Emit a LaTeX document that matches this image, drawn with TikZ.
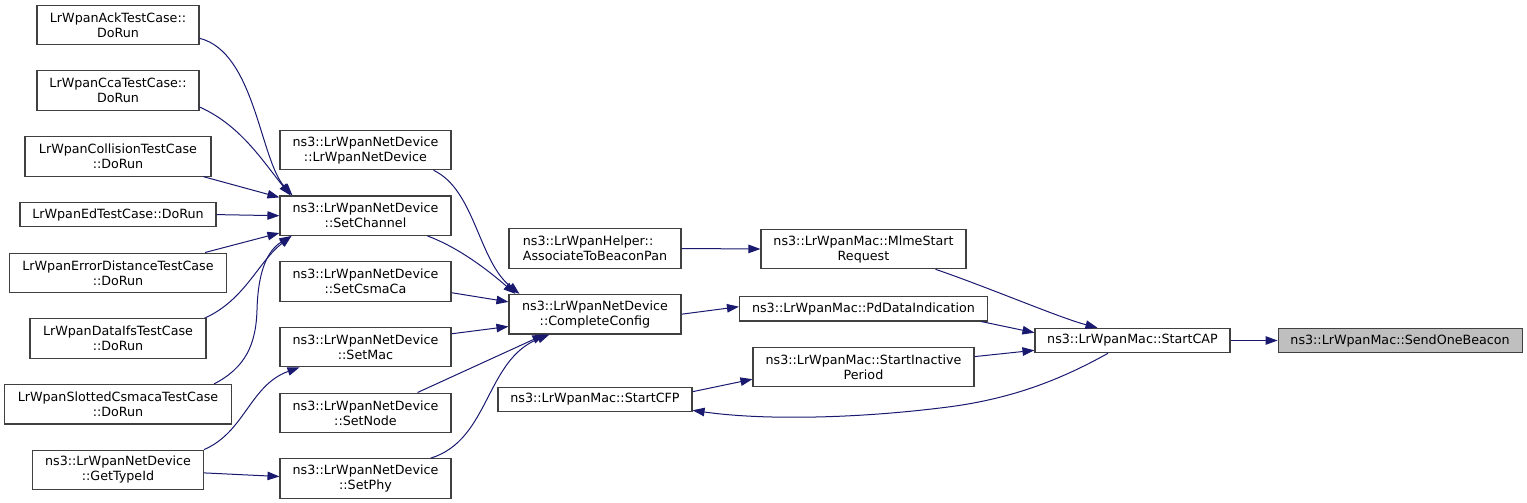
\documentclass[tikz,border=0pt]{standalone}
\usepackage{fontspec}
\setmainfont{DejaVu Sans}
\usepackage{tikz}
\usetikzlibrary{arrows.meta,positioning}
\definecolor{cgEdge}{HTML}{191970}
\definecolor{cgLine}{HTML}{404040}
\definecolor{cgSel}{HTML}{BFBFBF}
\tikzset{
  fnbox/.style={rectangle,draw=cgLine,line width=1.1pt,fill=white,
    minimum height=24.5pt,inner xsep=2pt,inner ysep=1pt,
    align=center,font=\fontsize{12.7}{15}\selectfont},
  fnbox2/.style={fnbox,minimum height=39.5pt},
  selbox/.style={fnbox,fill=cgSel},
  arr/.style={-{Stealth[length=12pt,width=8.5pt,inset=0pt]},
    line width=1pt,color=cgEdge},
}
\begin{document}
\begin{tikzpicture}[x=1pt,y=-1pt,node distance=25.1pt]
  \useasboundingbox (0,0) rectangle (1527,503);
  \node[fnbox2,minimum width=162pt] (ack) at (118,25)
    {LrWpanAckTestCase::\\DoRun};
  \node[fnbox2,minimum width=162pt,below=of ack] (cca)
    {LrWpanCcaTestCase::\\DoRun};
  \node[fnbox2,minimum width=186pt,below=of cca] (coll)
    {LrWpanCollisionTestCase\\::DoRun};
  \node[fnbox,minimum width=196pt,below=of coll] (ed)
    {LrWpanEdTestCase::DoRun};
  \node[fnbox2,minimum width=217pt,below=of ed] (errd)
    {LrWpanErrorDistanceTestCase\\::DoRun};
  \node[fnbox2,minimum width=176pt,below=of errd] (difs)
    {LrWpanDataIfsTestCase\\::DoRun};
  \node[fnbox2,minimum width=227pt,below=of difs] (slot)
    {LrWpanSlottedCsmacaTestCase\\::DoRun};
  \node[fnbox2,minimum width=171pt,below=of slot] (gtid)
    {ns3::LrWpanNetDevice\\::GetTypeId};

  \node[fnbox2,minimum width=171pt] (ctor) at (365.5,150)
    {ns3::LrWpanNetDevice\\::LrWpanNetDevice};
  \node[fnbox2,minimum width=171pt,below=of ctor] (sch)
    {ns3::LrWpanNetDevice\\::SetChannel};
  \node[fnbox2,minimum width=171pt,below=of sch] (scs)
    {ns3::LrWpanNetDevice\\::SetCsmaCa};
  \node[fnbox2,minimum width=171pt,below=of scs] (smac)
    {ns3::LrWpanNetDevice\\::SetMac};
  \node[fnbox2,minimum width=171pt,below=of smac] (snode)
    {ns3::LrWpanNetDevice\\::SetNode};
  \node[fnbox2,minimum width=171pt,below=of snode] (sphy)
    {ns3::LrWpanNetDevice\\::SetPhy};

  \node[fnbox2,minimum width=172pt,align=left] (assoc) at (595,248.5)
    {ns3::LrWpanHelper::\\AssociateToBeaconPan};
  \node[fnbox2,minimum width=172pt,below=of assoc] (ccfg)
    {ns3::LrWpanNetDevice\\::CompleteConfig};
  \node[fnbox,minimum width=194pt] (cfp) at (595,399.5)
    {ns3::LrWpanMac::StartCFP};

  \node[fnbox2,minimum width=205pt] (mlme) at (863.5,249)
    {ns3::LrWpanMac::MlmeStart\\Request};
  \node[fnbox,minimum width=248pt,below=26.6pt of mlme] (pdi)
    {ns3::LrWpanMac::PdDataIndication};
  \node[fnbox2,minimum width=221pt,below=of pdi] (inact)
    {ns3::LrWpanMac::StartInactive\\Period};

  \node[fnbox,minimum width=195pt] (cap) at (1132.5,340.5)
    {ns3::LrWpanMac::StartCAP};
  \node[selbox,minimum width=244pt,right=47pt of cap] (beacon)
    {ns3::LrWpanMac::SendOneBeacon};

  \draw[arr] ([yshift=7pt]ack.south east) .. controls (255,52) and (260,160)
    .. ([xshift=13pt]sch.north west);
  \draw[arr] ([yshift=4pt]cca.south east) .. controls (240,125) and (262,160)
    .. ([xshift=11pt]sch.north west);
  \draw[arr] ([xshift=-8pt]coll.south east) -- ([yshift=-2pt]sch.north west);
  \draw[arr] (ed.east) -- (sch.west);
  \draw[arr] ([xshift=-22pt]errd.north east) -- ([yshift=3pt]sch.south west);
  \draw[arr] ([xshift=-2pt]difs.north east) .. controls (245,300) and (258,262)
    .. ([xshift=12pt]sch.south west);
  \draw[arr] ([xshift=-18pt]slot.north east) .. controls (245,368) and (256,345)
    .. (257,310) .. controls (258,270) and (268,250) .. ([xshift=12pt]sch.south west);
  \draw[arr] (gtid.north east) .. controls (245,432) and (250,385)
    .. ([xshift=20pt]smac.south west);
  \draw[arr] ([yshift=-3pt]gtid.east) -- ([yshift=2pt]sphy.west);

  \draw[arr] ([xshift=-18pt]ctor.south east) .. controls (475,190) and (478,260)
    .. ([xshift=11pt]ccfg.north west);
  \draw[arr] ([xshift=-24pt]sch.south east) .. controls (460,248) and (490,272)
    .. ([xshift=7pt]ccfg.north west);
  \draw[arr] ([yshift=9pt]scs.south east) -- ([yshift=-8pt]ccfg.north west);
  \draw[arr] ([yshift=-7pt]smac.north east) -- ([yshift=8pt]ccfg.south west);
  \draw[arr] ([xshift=-34pt]snode.north east) -- ([xshift=36pt]ccfg.south west);
  \draw[arr] ([xshift=-21pt]sphy.north east) .. controls (490,440) and (485,360)
    .. ([xshift=41pt]ccfg.south west);

  \draw[arr] (assoc.east) -- (mlme.west);
  \draw[arr] (ccfg.east) -- ([yshift=2pt]pdi.west);
  \draw[arr] ([xshift=-31pt]mlme.south east) .. controls (990,288) and (1060,318)
    .. ([xshift=-35pt]cap.north);
  \draw[arr] ([xshift=-7pt]pdi.south east) -- ([yshift=-5pt]cap.north west);
  \draw[arr] ([yshift=-10pt]inact.north east) -- ([yshift=3pt]cap.south west);
  \draw[arr] ([xshift=-24.5pt]cap.south) .. controls (1060,380) and (1010,400)
    .. (940,408) .. controls (850,419) and (760,420) .. ([yshift=2pt]cfp.south east);
  \draw[arr] ([yshift=-5pt]cfp.north east) -- ([yshift=8pt]inact.south west);
  \draw[arr] (cap.east) -- (beacon.west);
\end{tikzpicture}
\end{document}
